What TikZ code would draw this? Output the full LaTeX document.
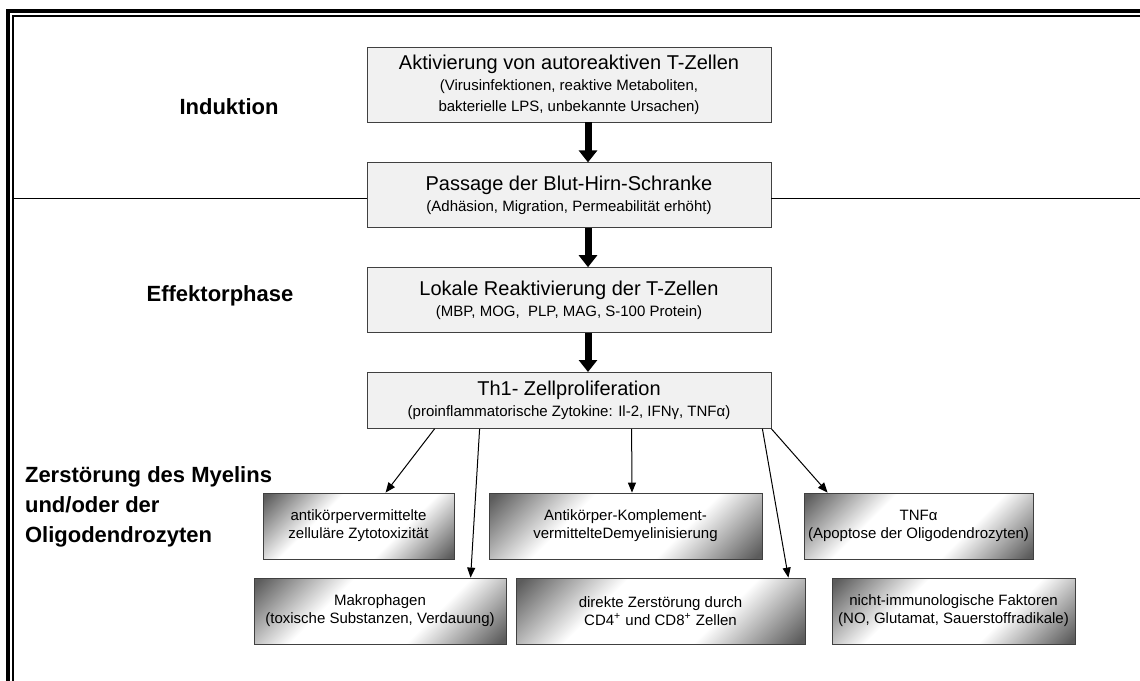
\documentclass[tikz,border=0pt]{standalone}
\usepackage{fontspec}
\setmainfont{Liberation Sans}
\usetikzlibrary{arrows.meta,positioning}
\newcommand{\subline}[1]{{\fontsize{7.5}{9.5}\selectfont #1}}
\pgfdeclareverticalshading{effectshade}{100bp}{color(0bp)=(black!64); color(16bp)=(black!64); color(37bp)=(white); color(63bp)=(white); color(84bp)=(black!64); color(100bp)=(black!64)}
\tikzset
{
    stagebox/.style = {rectangle, draw=black!75, fill=gray!11, minimum width=202pt, align=center, inner sep=2pt, font=\fontsize{10}{10.5}\selectfont},
    effectbox/.style = {rectangle, draw=black!75, shading=effectshade, shading angle=45, align=center, inner sep=2pt, minimum height=33pt, font=\fontsize{7.5}{9}\selectfont},
    phaselabel/.style = {align=left, font=\fontsize{11}{15}\selectfont\bfseries},
    bigarrow/.style = {line width=3.5pt, -{Triangle[width=9pt,length=6pt]}},
    arrow/.style = {line width=0.5pt, -{Triangle[width=4pt,length=5pt]}},
    divider/.style = {line width=0.5pt}
}

\begin{document}
\begin{tikzpicture}[x=0.5pt, y=-0.5pt]
	\useasboundingbox (0,0) rectangle (1140,680);

	% frame
	\draw [line width=1.6pt] (8,700) |- (1150,11);
	\draw [line width=1pt] (13,700) |- (1150,16);

	\node (akt) [stagebox, minimum height=37.5pt] at (569,84.5) {Aktivierung von autoreaktiven T-Zellen\\ \subline{(Virusinfektionen, reaktive Metaboliten,}\\ \subline{bakterielle LPS, unbekannte Ursachen)}};
	\node (pass) [stagebox, minimum height=32.5pt, below=20pt of akt] {Passage der Blut-Hirn-Schranke\\ \subline{(Adhäsion, Migration, Permeabilität erhöht)}};
	\node (reakt) [stagebox, minimum height=32.5pt, below=19.5pt of pass] {Lokale Reaktivierung der T-Zellen\\ \subline{(MBP, MOG,\ \ PLP, MAG, S-100 Protein)}};
	\node (th1) [stagebox, minimum height=28pt, below=19.5pt of reakt] {Th1- Zellproliferation\\ \subline{(proinflammatorische Zytokine: Il-2, IFNγ, TNFα)}};

	\node (anti) [effectbox, minimum width=95.5pt] at (358.5,526) {antikörpervermittelte\\zelluläre Zytotoxizität};
	\node (komp) [effectbox, minimum width=136.5pt] at (625.5,526) {Antikörper-Komplement-\\vermittelteDemyelinisierung};
	\node (tnf) [effectbox, minimum width=112.5pt] at (918.5,526) {TNFα\\(Apoptose der Oligodendrozyten)};
	\node (makro) [effectbox, minimum width=126pt] at (380,611) {Makrophagen\\(toxische Substanzen, Verdauung)};
	\node (direkt) [effectbox, minimum width=144.5pt] at (660.5,611) {direkte Zerstörung durch\\CD4\textsuperscript{+} und CD8\textsuperscript{+} Zellen};
	\node (nicht) [effectbox, minimum width=121.5pt] at (953.5,611) {nicht-immunologische Faktoren\\(NO, Glutamat, Sauerstoffradikale)};

	\node (induktion) [phaselabel] at (229,107) {Induktion};
	\node (effektor) [phaselabel] at (220,296) {Effektorphase};
	\node (zerst) [phaselabel, anchor=west] at (18,507) {Zerstörung des Myelins\\und/oder der\\Oligodendrozyten};

	% divider
	\coordinate (divL) at (13,198);
	\coordinate (divR) at (1140,198);
	\draw [divider] (divL) -- (divL -| pass.west);
	\draw [divider] (pass.east |- divR) -- (divR);

	\draw [bigarrow] ([xshift=9.5pt]akt.south) -- ([xshift=9.5pt]pass.north);
	\draw [bigarrow] ([xshift=9.5pt]pass.south) -- ([xshift=9.5pt]reakt.north);
	\draw [bigarrow] ([xshift=9.5pt]reakt.south) -- ([xshift=9.5pt]th1.north);

	\draw [arrow] ([xshift=34pt]th1.south west) -- ([xshift=61.5pt]anti.north west);
	\draw [arrow] ([xshift=56.5pt]th1.south west) -- ([xshift=108.5pt]makro.north west);
	\draw [arrow] ([xshift=132.5pt]th1.south west) -- ([xshift=3.25pt]komp.north);
	\draw [arrow] ([xshift=-4.5pt]th1.south east) -- ([xshift=-8.5pt]direkt.north east);
	\draw [arrow] (th1.south east) -- ([xshift=12pt]tnf.north west);
\end{tikzpicture}
\end{document}
